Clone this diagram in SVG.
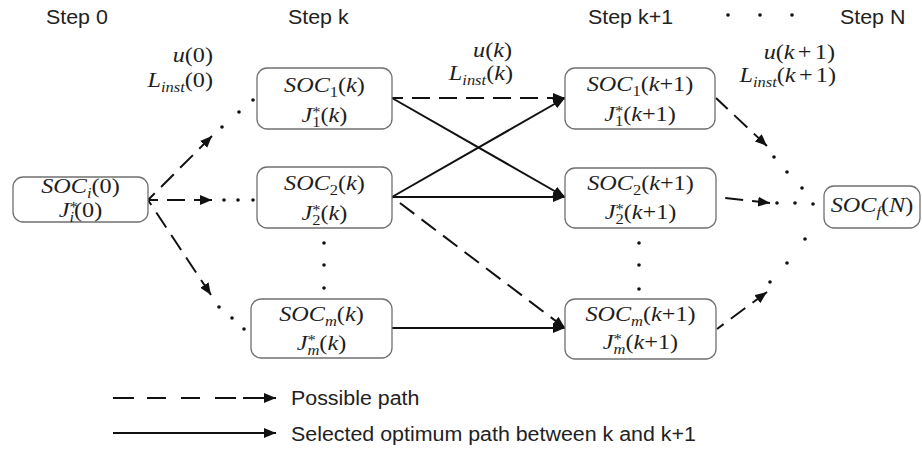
<svg xmlns="http://www.w3.org/2000/svg" width="922" height="454" viewBox="0 0 922 454">
<defs>
<marker id="ah" viewBox="0 0 12 10" refX="12" refY="5" markerWidth="12" markerHeight="10" markerUnits="userSpaceOnUse" orient="auto"><path d="M0,0 L12,5 L0,10 z" fill="#111"/></marker>
</defs>
<style>
.box{fill:#fff;stroke:#707070;stroke-width:1.3}
.m{font-family:"Liberation Serif","Times New Roman",serif;font-size:22px;fill:#1e1e1e;transform-box:fill-box;transform-origin:center;transform:scaleX(1.1)}
.e{text-anchor:end;transform-origin:right}
.mid{text-anchor:middle}
.i{font-style:italic}
.s{font-size:15px}
.h{font-family:"Liberation Sans",Arial,sans-serif;font-size:20px;fill:#222;transform-box:fill-box;transform-origin:left;transform:scaleX(1.07)}
.c{fill:none;stroke:#111;stroke-width:2}
.d{stroke-dasharray:18 9}
.dot{fill:#111}
</style>
<rect width="922" height="454" fill="#fff"/>

<g id="headers">
<text class="h" x="46" y="24">Step 0</text>
<text class="h" x="288" y="24">Step k</text>
<text class="h" x="588" y="24">Step k+1</text>
<circle class="dot" cx="728" cy="15" r="1.8"/>
<circle class="dot" cx="760" cy="15" r="1.8"/>
<circle class="dot" cx="792" cy="15" r="1.8"/>
<text class="h" x="840" y="24">Step N</text>
</g>

<g id="labels">
<text class="m e" x="213" y="62"><tspan class="i">u</tspan>(0)</text>
<text class="m e" x="213" y="87"><tspan class="i">L</tspan><tspan class="i s" dy="5">inst</tspan><tspan dy="-5">(0)</tspan></text>
<text class="m e" x="512" y="57"><tspan class="i">u</tspan>(<tspan class="i">k</tspan>)</text>
<text class="m e" x="513" y="80"><tspan class="i">L</tspan><tspan class="i s" dy="5">inst</tspan><tspan dy="-5">(</tspan><tspan class="i">k</tspan>)</text>
<text class="m e" x="835" y="59"><tspan class="i">u</tspan>(<tspan class="i">k</tspan><tspan dx="3">+</tspan><tspan dx="3">1)</tspan></text>
<text class="m e" x="836" y="82"><tspan class="i">L</tspan><tspan class="i s" dy="5">inst</tspan><tspan dy="-5">(</tspan><tspan class="i">k</tspan><tspan dx="3">+</tspan><tspan dx="3">1)</tspan></text>
</g>

<g id="connectors">
<path class="c d" style="stroke-dashoffset:8.5" d="M148,200 L212,136" marker-end="url(#ah)"/>
<path class="c d" style="stroke-dashoffset:8" d="M148,200 L212,200" marker-end="url(#ah)"/>
<path class="c d" style="stroke-dashoffset:12" d="M148,200 L211,295" marker-end="url(#ah)"/>
<path class="c d" style="stroke-dashoffset:7" d="M392,98 L565,98" marker-end="url(#ah)"/>
<path class="c" d="M392,98 L565,197" marker-end="url(#ah)"/>
<path class="c" d="M392,197 L565,98" marker-end="url(#ah)"/>
<path class="c" d="M392,197 L565,197" marker-end="url(#ah)"/>
<path class="c d" style="stroke-dashoffset:17" d="M392,197 L565,328" marker-end="url(#ah)"/>
<path class="c" d="M392,328 L565,328" marker-end="url(#ah)"/>
<path class="c d" style="stroke-dashoffset:2" d="M716,98 L767,146" marker-end="url(#ah)"/>
<path class="c d" style="stroke-dashoffset:18.7" d="M717,197 L770,203" marker-end="url(#ah)"/>
<path class="c d" style="stroke-dashoffset:9.8" d="M717,329 L767,292" marker-end="url(#ah)"/>
<g id="dots">
<circle class="dot" cx="222" cy="127" r="1.8"/><circle class="dot" cx="239" cy="112" r="1.8"/><circle class="dot" cx="253" cy="100" r="1.8"/>
<circle class="dot" cx="224" cy="200" r="1.8"/><circle class="dot" cx="238" cy="200" r="1.8"/><circle class="dot" cx="253" cy="200" r="1.8"/>
<circle class="dot" cx="219" cy="307" r="1.8"/><circle class="dot" cx="232" cy="318" r="1.8"/><circle class="dot" cx="244" cy="329" r="1.8"/>
<circle class="dot" cx="324" cy="243" r="1.8"/><circle class="dot" cx="324" cy="265" r="1.8"/><circle class="dot" cx="324" cy="288" r="1.8"/>
<circle class="dot" cx="639" cy="243" r="1.8"/><circle class="dot" cx="639" cy="265" r="1.8"/><circle class="dot" cx="639" cy="289" r="1.8"/>
<circle class="dot" cx="774" cy="157" r="1.8"/><circle class="dot" cx="787" cy="172" r="1.8"/><circle class="dot" cx="802" cy="188" r="1.8"/>
<circle class="dot" cx="777" cy="203" r="1.8"/><circle class="dot" cx="795" cy="203" r="1.8"/><circle class="dot" cx="813" cy="204" r="1.8"/>
<circle class="dot" cx="770" cy="282" r="1.8"/><circle class="dot" cx="787" cy="263" r="1.8"/><circle class="dot" cx="805" cy="239" r="1.8"/>
</g>
</g>

<g id="node-i">
<rect class="box" x="13" y="177" width="135" height="45" rx="10"/>
<text class="m mid" x="80.5" y="193"><tspan class="i">SOC</tspan><tspan class="i s" dy="5">i</tspan><tspan dy="-5">(0)</tspan></text>
<text class="m mid" x="80.5" y="217"><tspan class="i">J</tspan><tspan class="s" dy="-5">*</tspan><tspan class="i s" dx="-7.5" dy="10">i</tspan><tspan dy="-5">(0)</tspan></text>
</g>

<g id="node-1k">
<rect class="box" x="257" y="68" width="135" height="61" rx="10"/>
<text class="m mid" x="324.5" y="92"><tspan class="i">SOC</tspan><tspan class="s" dy="5">1</tspan><tspan dy="-5">(</tspan><tspan class="i">k</tspan>)</text>
<text class="m mid" x="324.5" y="122"><tspan class="i">J</tspan><tspan class="s" dy="-5">*</tspan><tspan class="s" dx="-7.5" dy="10">1</tspan><tspan dy="-5">(</tspan><tspan class="i">k</tspan>)</text>
</g>

<g id="node-2k">
<rect class="box" x="257" y="167" width="135" height="61" rx="10"/>
<text class="m mid" x="324.5" y="190"><tspan class="i">SOC</tspan><tspan class="s" dy="5">2</tspan><tspan dy="-5">(</tspan><tspan class="i">k</tspan>)</text>
<text class="m mid" x="324.5" y="220"><tspan class="i">J</tspan><tspan class="s" dy="-5">*</tspan><tspan class="s" dx="-7.5" dy="10">2</tspan><tspan dy="-5">(</tspan><tspan class="i">k</tspan>)</text>
</g>

<g id="node-mk">
<rect class="box" x="251" y="299" width="141" height="59" rx="10"/>
<text class="m mid" x="321.5" y="321"><tspan class="i">SOC</tspan><tspan class="i s" dy="5">m</tspan><tspan dy="-5">(</tspan><tspan class="i">k</tspan>)</text>
<text class="m mid" x="321.5" y="350"><tspan class="i">J</tspan><tspan class="s" dy="-5">*</tspan><tspan class="i s" dx="-7.5" dy="10">m</tspan><tspan dy="-5">(</tspan><tspan class="i">k</tspan>)</text>
</g>

<g id="node-1k1">
<rect class="box" x="565" y="68" width="150" height="61" rx="10"/>
<text class="m mid" x="640" y="91"><tspan class="i">SOC</tspan><tspan class="s" dy="5">1</tspan><tspan dy="-5">(</tspan><tspan class="i">k</tspan>+1)</text>
<text class="m mid" x="640" y="121"><tspan class="i">J</tspan><tspan class="s" dy="-5">*</tspan><tspan class="s" dx="-7.5" dy="10">1</tspan><tspan dy="-5">(</tspan><tspan class="i">k</tspan>+1)</text>
</g>

<g id="node-2k1">
<rect class="box" x="565" y="168" width="151" height="60" rx="10"/>
<text class="m mid" x="640.5" y="190"><tspan class="i">SOC</tspan><tspan class="s" dy="5">2</tspan><tspan dy="-5">(</tspan><tspan class="i">k</tspan>+1)</text>
<text class="m mid" x="640.5" y="219"><tspan class="i">J</tspan><tspan class="s" dy="-5">*</tspan><tspan class="s" dx="-7.5" dy="10">2</tspan><tspan dy="-5">(</tspan><tspan class="i">k</tspan>+1)</text>
</g>

<g id="node-mk1">
<rect class="box" x="565" y="299" width="151" height="60" rx="10"/>
<text class="m mid" x="640.5" y="321"><tspan class="i">SOC</tspan><tspan class="i s" dy="5">m</tspan><tspan dy="-5">(</tspan><tspan class="i">k</tspan>+1)</text>
<text class="m mid" x="640.5" y="349"><tspan class="i">J</tspan><tspan class="s" dy="-5">*</tspan><tspan class="i s" dx="-7.5" dy="10">m</tspan><tspan dy="-5">(</tspan><tspan class="i">k</tspan>+1)</text>
</g>

<g id="node-f">
<rect class="box" x="824" y="186" width="96" height="42" rx="10"/>
<text class="m mid" x="872" y="212"><tspan class="i">SOC</tspan><tspan class="i s" dy="5">f</tspan><tspan dy="-5">(</tspan><tspan class="i">N</tspan>)</text>
</g>

<g id="legend">
<path class="c" d="M113,398 H134 M147,398 H166 M181,398 H200 M215,398 H236"/>
<path class="c" d="M243,398 H276" marker-end="url(#ah)"/>
<path class="c" d="M113,433 H276" marker-end="url(#ah)"/>
<text class="h" x="291" y="405">Possible path</text>
<text class="h" x="291" y="441">Selected optimum path between k and k+1</text>
</g>
</svg>
